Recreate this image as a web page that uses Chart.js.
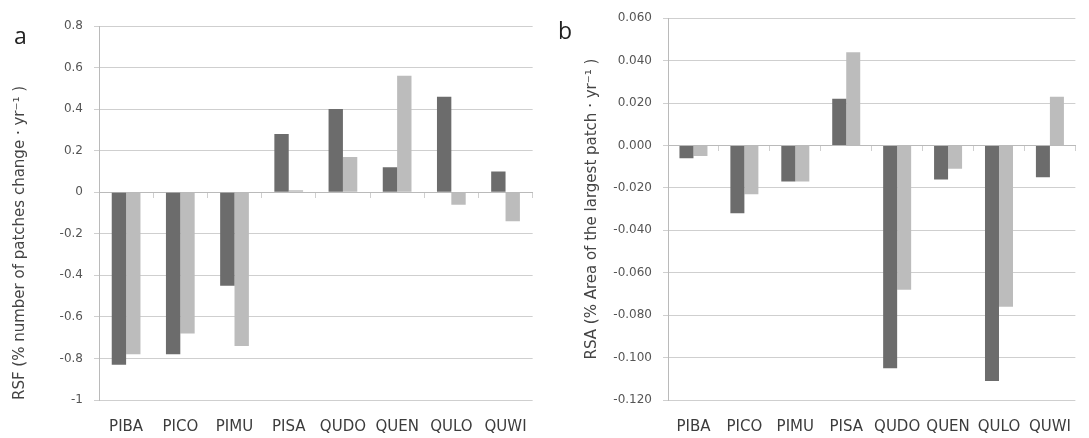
<!DOCTYPE html>
<html>
<head>
<meta charset="utf-8">
<script src="https://cdn.jsdelivr.net/npm/chart.js@4.4.1/dist/chart.umd.min.js"></script>
<style>
  html, body { margin: 0; padding: 0; background: #fff; }
  #wrap { position: relative; width: 1089px; height: 438px; overflow: hidden; }
  .panel { position: absolute; top: 0; }
  .letter { position: absolute; font-family: "Open Sans", sans-serif; font-size: 23px; color: #222; }
</style>
</head>
<body>
<div id="wrap">
  <canvas id="chartA" class="panel" style="left:0" width="545" height="438"></canvas>
  <canvas id="chartB" class="panel" style="left:545px" width="544" height="438"></canvas>
  <div class="letter" style="left:14px; top:19px;">a</div>
  <div class="letter" style="left:558px; top:14px;">b</div>
</div>
<script>
const species = ['PIBA', 'PICO', 'PIMU', 'PISA', 'QUDO', 'QUEN', 'QULO', 'QUWI'];

// RSF, number of patches change per year
const rsfDark  = [-0.83, -0.78, -0.45, 0.28, 0.40, 0.12, 0.46, 0.10];
const rsfLight = [-0.78, -0.68, -0.74, 0.01, 0.17, 0.56, -0.06, -0.14];
const rsfRange = [-1, 0.8, 0.2];

// RSA, area of the largest patch per year
const rsaDark  = [-0.006, -0.032, -0.017, 0.022, -0.105, -0.016, -0.111, -0.015];
const rsaLight = [-0.005, -0.023, -0.017, 0.044, -0.068, -0.011, -0.076, 0.023];
const rsaRange = [-0.12, 0.06, 0.02];

const DARK = '#6c6c6c';
const LIGHT = '#bcbcbc';
const FONT = '"DejaVu Sans", sans-serif';

function fmt(v, digits) {
    let s = Number(v).toFixed(digits);
    if (/^-0\.?0*$/.test(s)) s = s.slice(1);
    if (digits === 1) s = String(Number(s));
    return s;
}

function makeChart(id, dark, light, range, digits, opts) {
    const ctx = document.getElementById(id).getContext('2d');
    return new Chart(ctx, {
        type: 'bar',
        data: {
            labels: species,
            datasets: [
                { label: 'series 1', data: dark, backgroundColor: DARK, categoryPercentage: opts.cat, barPercentage: 1 },
                { label: 'series 2', data: light, backgroundColor: LIGHT, categoryPercentage: opts.cat, barPercentage: 1 }
            ]
        },
        options: {
            responsive: false,
            animation: false,
            layout: { padding: opts.padding },
            plugins: { legend: { display: false }, tooltip: { enabled: false } },
            scales: {
                x: {
                    offset: true,
                    grid: { display: false, drawTicks: false },
                    border: { display: false },
                    ticks: { color: '#3c3c3c', font: { family: FONT, size: 15 }, padding: 18, maxRotation: 0, autoSkip: false },
                    afterFit: s => { s.height = 38; }
                },
                // zero line with short marks between the categories
                x2: {
                    type: 'category',
                    position: { y: 0 },
                    offset: true,
                    grid: { offset: true, drawOnChartArea: false, drawTicks: true, tickLength: 5, color: '#cfcfcf' },
                    border: { color: '#bababa' },
                    ticks: { display: false }
                },
                y: {
                    min: range[0],
                    max: range[1],
                    ticks: {
                        stepSize: range[2],
                        color: '#555',
                        font: { family: FONT, size: 12 },
                        padding: opts.tickPad,
                        callback: v => fmt(v, digits)
                    },
                    grid: { color: '#cfcfcf', tickLength: 5 },
                    border: { color: '#bababa' },
                    title: {
                        display: true,
                        text: opts.title,
                        align: opts.titleAlign,
                        color: '#444',
                        font: { family: FONT, size: 15 },
                        padding: { top: opts.titlePad, bottom: 0 }
                    },
                    afterFit: s => { s.width = opts.axisWidth; }
                }
            }
        }
    });
}

makeChart('chartA', rsfDark, rsfLight, rsfRange, 1, {
    title: 'RSF (% number of patches change · yr⁻¹ )',
    titleAlign: 'start',
    titlePad: 11,
    axisWidth: 99,
    tickPad: 11,
    cat: 0.53,
    padding: { top: 26, right: 7, bottom: 0, left: 0 }
});

makeChart('chartB', rsaDark, rsaLight, rsaRange, 3, {
    title: 'RSA (% Area of the largest patch · yr⁻¹ )',
    titleAlign: 'center',
    titlePad: 38,
    axisWidth: 123,
    tickPad: 11,
    cat: 0.55,
    padding: { top: 16, right: 1, bottom: 0, left: 0 }
});
</script>
</body>
</html>
